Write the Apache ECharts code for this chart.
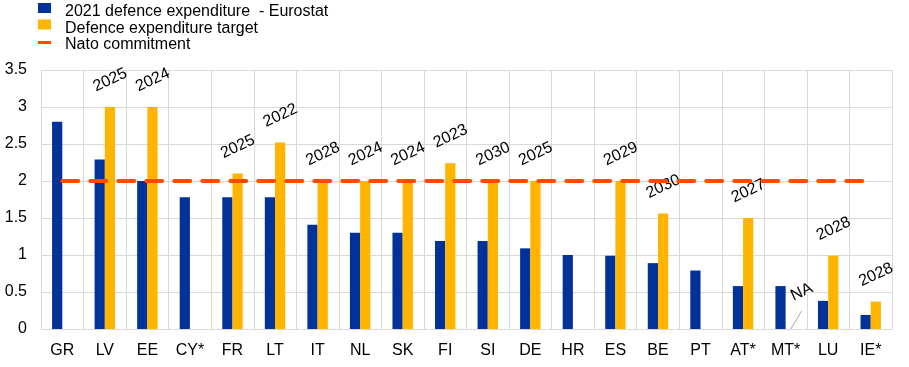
<!DOCTYPE html>
<html>
<head>
<meta charset="utf-8">
<script src="https://cdn.jsdelivr.net/npm/echarts@6/dist/echarts.min.js"></script>
<style>html,body{margin:0;padding:0;background:#fff}#c{width:909px;height:367px}</style>
</head>
<body>
<div id="c"></div>
<script>
var categories = ['GR','LV','EE','CY*','FR','LT','IT','NL','SK','FI','SI','DE','HR','ES','BE','PT','AT*','MT*','LU','IE*'];
var expenditure2021 = [2.8,2.29,2.0,1.78,1.78,1.78,1.41,1.3,1.3,1.19,1.19,1.09,1.0,0.99,0.89,0.79,0.58,0.58,0.38,0.19];
var targetValues = [null,3.0,3.0,null,2.1,2.52,2.0,2.0,2.0,2.24,2.0,2.0,null,2.0,1.56,null,1.5,null,0.99,0.37];
var targetYears = ['', '2025','2024','', '2025','2022','2028','2024','2024','2023','2030','2025','', '2029','2030','', '2027','', '2028','2028'];
var natoCommitment = [2,2,2,2,2,2,2,2,2,2,2,2,2,2,2,2,2,2,2,2];
var naPoints = [['MT*', 0, 'NA']];
var seriesNames = ['2021 defence expenditure  - Eurostat', 'Defence expenditure target', 'Nato commitment'];

var FONT = 'Liberation Sans, Arial, sans-serif';
var SQUARE_ICON = 'path://M0,0h13v10H0z M0,17.99h0.01v0.01H0z';
var LINE_ICON = 'path://M0,5h13v3H0z M0,0h0.01v0.01H0z M0,17.99h0.01v0.01H0z';
var chart = echarts.init(document.getElementById('c'), null, {renderer: 'canvas'});
chart.setOption({
  animation: false,
  textStyle: {fontFamily: FONT},
  legend: {
    orient: 'vertical', left: 38, top: 3, itemGap: -1.5, padding: 0,
    itemWidth: 13, itemHeight: 18,
    textStyle: {fontSize: 16, color: '#000', fontFamily: FONT, lineHeight: 18, padding: [0,0,0,9]},
    data: [
      {name: seriesNames[0], icon: SQUARE_ICON},
      {name: seriesNames[1], icon: SQUARE_ICON},
      {name: seriesNames[2], icon: LINE_ICON}
    ]
  },
  grid: {left: 41, right: 17, top: 70, bottom: 38},
  xAxis: {
    type: 'category', data: categories,
    axisTick: {show: false},
    axisLine: {lineStyle: {color: '#d9d9d9', width: 1}},
    splitLine: {show: true, lineStyle: {color: '#d9d9d9', width: 1}},
    axisLabel: {fontSize: 16, color: '#000', margin: 14, fontFamily: FONT, interval: 0}
  },
  yAxis: {
    type: 'value', min: 0, max: 3.5, interval: 0.5,
    axisLine: {show: false}, axisTick: {show: false},
    splitLine: {lineStyle: {color: '#d9d9d9', width: 1}},
    axisLabel: {fontSize: 16, color: '#000', margin: 14, fontFamily: FONT}
  },
  series: [
    {
      name: seriesNames[0], type: 'bar', data: expenditure2021,
      barWidth: '24%', barGap: '0%',
      itemStyle: {color: '#003299'}
    },
    {
      name: seriesNames[1], type: 'bar', data: targetValues,
      barWidth: '24%', barGap: '0%',
      itemStyle: {color: '#FFB400'},
      label: {
        show: true, position: 'top', rotate: 25, distance: 18, offset: [4, 0],
        fontSize: 16, color: '#000', fontFamily: FONT,
        formatter: function (p) { return targetYears[p.dataIndex]; }
      }
    },
    {
      name: seriesNames[2], type: 'line', data: natoCommitment,
      symbol: 'none', z: 5, color: '#FF4B00',
      lineStyle: {color: '#FF4B00', width: 4, type: [16, 12], cap: 'round'}
    },
    {
      type: 'custom', data: naPoints, z: 6,
      renderItem: function (params, api) {
        var pt = api.coord([api.value(0), api.value(1)]);
        var w = api.size([1, 0])[0] * 0.12;
        var x = pt[0] + w, y = pt[1];
        return {
          type: 'group',
          children: [
            {type: 'line', shape: {x1: x, y1: y, x2: x + 11, y2: y - 18},
             style: {stroke: '#a6a6a6', lineWidth: 1}},
            {type: 'text', x: x + 11, y: y - 37, rotation: 25 * Math.PI / 180,
             style: {text: 'NA', fontSize: 16, fill: '#000', fontFamily: FONT, align: 'center', verticalAlign: 'middle'}}
          ]
        };
      }
    }
  ]
});
</script>
</body>
</html>
